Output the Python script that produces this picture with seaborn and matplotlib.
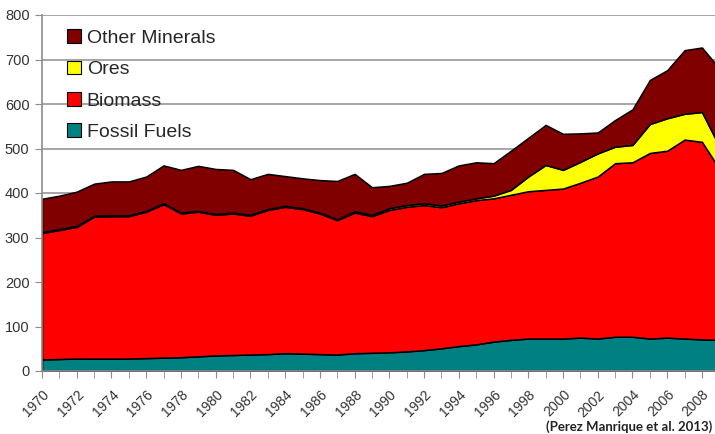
import numpy as np
import pandas as pd
import matplotlib
matplotlib.use("Agg")
import matplotlib.pyplot as plt
import seaborn as sns
from matplotlib.patches import Patch

# ---------------------------------------------------
# data
# ---------------------------------------------------
years = list(range(1970, 2010))

fossil_fuels = [26, 27, 28, 28, 28, 28, 29, 30, 31, 33,
                35, 36, 37, 38, 40, 39, 38, 37, 40, 41,
                42, 44, 47, 51, 56, 60, 66, 70, 73, 73,
                73, 75, 73, 77, 77, 73, 75, 73, 71, 70]

biomass = [284, 290, 296, 319, 320, 320, 329, 345, 323, 325,
           316, 318, 312, 324, 329, 325, 316, 302, 316, 307,
           320, 325, 326, 317, 321, 324, 322, 326, 331, 334,
           337, 348, 364, 390, 392, 417, 420, 447, 444, 385]

ores = [2, 2, 2, 2, 2, 2, 2, 2, 2, 2,
        2, 2, 2, 2, 2, 2, 2, 2, 3, 3,
        4, 4, 4, 4, 4, 4, 6, 11, 33, 56,
        42, 47, 52, 37, 39, 65, 73, 58, 67, 50]

other_minerals = [75, 75, 77, 72, 76, 76, 77, 85, 96, 101,
                  101, 96, 80, 79, 67, 67, 73, 86, 84, 62,
                  50, 50, 66, 73, 81, 81, 73, 88, 87, 90,
                  81, 64, 47, 60, 80, 99, 108, 143, 145, 175]

series_names = ["Fossil Fuels", "Biomass", "Ores", "Other Minerals"]
series_colors = ["#008080", "#ff0000", "#ffff00", "#800000"]

df = pd.DataFrame({
    "year": years,
    "Fossil Fuels": fossil_fuels,
    "Biomass": biomass,
    "Ores": ores,
    "Other Minerals": other_minerals,
}).set_index("year")

# ---------------------------------------------------
# plot
# ---------------------------------------------------
sns.set_style("white")
plt.rcParams["font.family"] = ["Liberation Sans", "DejaVu Sans"]

fig = plt.figure(figsize=(7.15, 4.34), dpi=100)
ax = fig.add_axes([42 / 715, 1 - 371 / 434, (719.3 - 42) / 715, (371 - 15) / 434])

ax.stackplot(df.index, [df[c] for c in series_names],
             colors=series_colors, edgecolor="black", linewidth=1.1, zorder=3)

ax.set_xlim(1970, 2009)
ax.set_ylim(0, 800)
ax.set_yticks(range(0, 801, 100))
ax.yaxis.grid(True, color="#a6a6a6", linewidth=1.4, zorder=0)
ax.set_axisbelow(True)

ax.set_xticks(range(1970, 2010), minor=True)
ax.set_xticks(range(1970, 2010, 2))
ax.set_xticklabels([str(y) for y in range(1970, 2010, 2)], rotation=45,
                   ha="right", rotation_mode="anchor", fontsize=10, color="#333333")
ax.tick_params(axis="y", labelsize=10.5, labelcolor="#333333", length=5,
               color="#8c8c8c", direction="out", left=True, pad=4)
ax.tick_params(axis="x", which="both", length=5, color="#8c8c8c",
               direction="out", bottom=True, pad=7)

for side in ["top", "right"]:
    ax.spines[side].set_visible(False)
for side in ["left", "bottom"]:
    ax.spines[side].set_color("#8c8c8c")
    ax.spines[side].set_linewidth(1.2)
    ax.spines[side].set_zorder(4)

handles = [Patch(facecolor=c, edgecolor="black", linewidth=0.8, label=n)
           for n, c in zip(series_names[::-1], series_colors[::-1])]
ax.legend(handles=handles, loc="upper left", bbox_to_anchor=(0.02, 0.993),
          frameon=False, fontsize=14, handlelength=0.7, handleheight=0.7,
          handletextpad=0.3, labelspacing=0.71, borderaxespad=0.2)

fig.text(712 / 715, 1 - 427 / 434, "(Perez Manrique et al. 2013)",
         ha="right", va="center", fontsize=9.5, fontweight="bold",
         family=["Lato", "DejaVu Sans"], color="#222222")

fig.savefig("out.png", dpi=100)
plt.close(fig)
